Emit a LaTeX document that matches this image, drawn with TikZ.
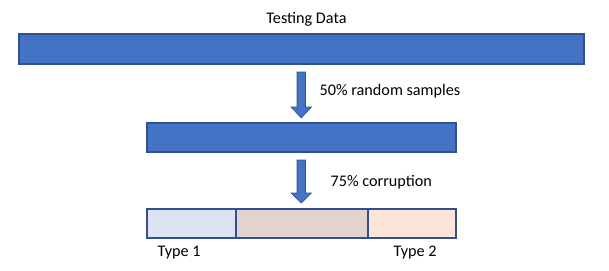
\documentclass[tikz,border=0pt]{standalone}
\usepackage{fontspec}
\setmainfont{Carlito}
\definecolor{barblue}{HTML}{4472C4}
\definecolor{barline}{HTML}{2F528F}
\definecolor{seglight}{HTML}{DDE3F3}
\definecolor{segmauve}{HTML}{E3D3CF}
\definecolor{segpeach}{HTML}{FCE4D6}
\begin{document}
\begin{tikzpicture}[x=1pt,y=-1pt,
  bar/.style={draw=barline,line width=1.2pt,fill=barblue},
  seg/.style={draw=barline,line width=1.2pt},
  lbl/.style={font=\fontsize{16.2}{18}\selectfont,inner sep=0pt,anchor=west},
  blockarrow/.style={fill=barblue,draw=barline,line width=0.6pt}]
\useasboundingbox (0,0) rectangle (609,270);
% bars
\draw[bar] (19,34) rectangle (584,64);
\draw[bar] (147,123) rectangle (456,152);
\draw[seg,fill=seglight] (147,209) rectangle (236,238);
\draw[seg,fill=segmauve] (236,209) rectangle (368,238);
\draw[seg,fill=segpeach] (368,209) rectangle (456,238);
% arrows
\draw[blockarrow] (297,72) -- (305.5,72) -- (305.5,107) -- (311.5,107) -- (301.3,118) -- (291,107) -- (297,107) -- cycle;
\draw[blockarrow] (297,160) -- (305.5,160) -- (305.5,193) -- (311.5,193) -- (301.3,203) -- (291,193) -- (297,193) -- cycle;
% labels
\node[lbl,anchor=center] (title) at (306.5,19) {Testing Data};
\node[lbl] (samp) at (319.5,91) {50\% random samples};
\node[lbl] (corr) at (330.5,182) {75\% corruption};
\node[lbl] (t1) at (157.5,253) {Type 1};
\node[lbl] (t2) at (393.5,253) {Type 2};
\end{tikzpicture}
\end{document}
